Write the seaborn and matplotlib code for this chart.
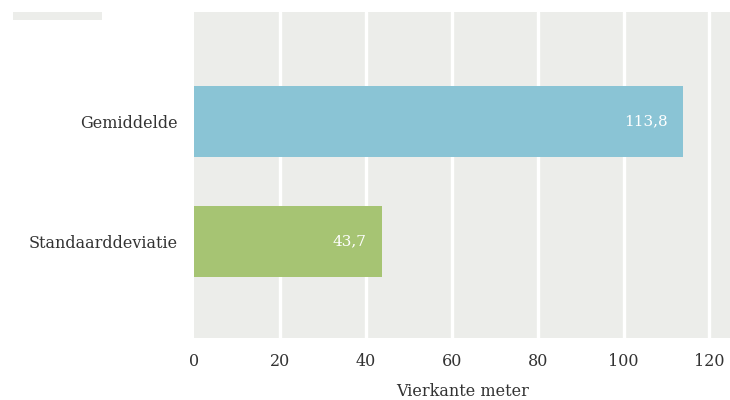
import matplotlib
matplotlib.use("Agg")
import matplotlib.pyplot as plt
from matplotlib.patches import Rectangle
import pandas as pd
import seaborn as sns

# Oppervlakte-statistieken
categories = ["Gemiddelde", "Standaarddeviatie"]
values = [113.8, 43.7]
value_labels = ["113,8", "43,7"]
bar_colors = ["#8AC4D5", "#A6C473"]
x_ticks = [0, 20, 40, 60, 80, 100, 120]
x_title = "Vierkante meter"

sns.set_theme(style="white")
plt.rcParams["font.family"] = ["DejaVu Serif", "DejaVu Sans"]

text_color = "#333333"
panel_color = "#ECEDEA"

df = pd.DataFrame({"categorie": categories, "waarde": values})

fig = plt.figure(figsize=(7.3, 4.0), dpi=100)
ax = fig.add_axes([194.4 / 730, 1 - 338 / 400, 1 - 194.4 / 730, (338 - 12) / 400])
ax.set_facecolor(panel_color)

sns.barplot(
    data=df, x="waarde", y="categorie", hue="categorie",
    palette=dict(zip(categories, bar_colors)), orient="h",
    width=0.59, legend=False, ax=ax, zorder=3, saturation=1,
    linewidth=0, edgecolor="none",
)

ax.set_xlim(0, 124.8)
ax.set_ylim(1.804, -0.9125)
ax.set_xticks(x_ticks)
ax.set_xticklabels([str(t) for t in x_ticks])

for t in x_ticks[1:]:
    ax.axvline(t, color="white", linewidth=2.4, zorder=1)

for side in ax.spines.values():
    side.set_visible(False)

ax.tick_params(axis="x", length=0, pad=11, labelsize=11.5, labelcolor=text_color)
ax.tick_params(axis="y", length=0, pad=12, labelsize=11.5, labelcolor=text_color)
ax.set_ylabel("")
ax.set_xlabel(x_title, fontsize=11.5, color=text_color, labelpad=9)

for i, (v, lab) in enumerate(zip(values, value_labels)):
    ax.annotate(lab, xy=(v, i), xytext=(-11, 0), textcoords="offset points",
                ha="right", va="center", color="white", fontsize=11, zorder=4)

# Lege legendastrook linksboven
fig.patches.append(Rectangle((13 / 730, 1 - 20 / 400), 89 / 730, 8 / 400,
                             transform=fig.transFigure, color=panel_color,
                             linewidth=0, zorder=0))

fig.savefig("out.png", dpi=100)
